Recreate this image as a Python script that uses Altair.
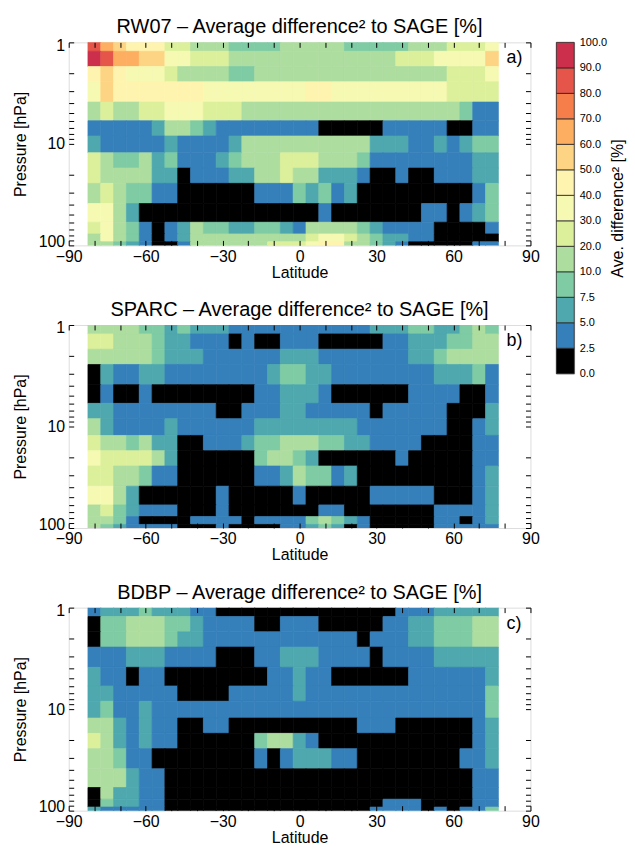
import json
import math
import altair as alt
import pandas as pd

# ---------------- data ----------------
LATITUDES = [-80, -75, -70, -65, -60, -55, -50, -45, -40, -35, -30, -25, -20, -15, -10, -5,
             0, 5, 10, 15, 20, 25, 30, 35, 40, 45, 50, 55, 60, 65, 70, 75]
PRESSURE_LEVELS = [1, 1.5, 2, 3, 5, 7, 10, 15, 20, 30, 50, 70, 85, 100]

BIN_LABELS = ["0.0", "2.5", "5.0", "7.5", "10.0", "20.0", "30.0", "40.0",
              "50.0", "60.0", "70.0", "80.0", "90.0", "100.0"]
THRESHOLDS = [2.5, 5, 7.5, 10, 20, 30, 40, 50, 60, 70, 80, 90]
BIN_COLORS = ["#000000", "#3580ba", "#4ea8ae", "#7ecba4", "#aedda0", "#dcf09c",
              "#f5f9b2", "#fff4af", "#fdd483", "#fdae61", "#f57e4a", "#e5554a", "#cb2f4c"]
# cell codes -> representative value of the colour class
CODE_VALUES = {"0": 1.2, "1": 3.8, "2": 6.2, "3": 8.8, "4": 15, "5": 25, "6": 35,
               "7": 45, "8": 55, "9": 65, "A": 75, "B": 85, "C": 95}

# rows: 1 hPa (top) ... 100 hPa (bottom); columns: -80 ... 75 deg
RW07 = [
    "B9877755444333344" "444333334445556",
    "CB998866555444444" "444444455566668",
    "78766654444334444" "444444444445556",
    "68777777766666666" "776666666665555",
    "45445566655544444" "444444444444311",
    "11111244321111111" "100000111110011",
    "21111121111244444" "444442221121233",
    "54334231112344455" "544431111111122",
    "54444220111224454" "422210010011122",
    "45433110000001113" "231200000000013",
    "66420000000000000" "010000000110123",
    "56431012433223321" "444432111100001",
    "46431012444444444" "566543221100000",
    "44321001444444555" "677443210000011",
]
SPARC = [
    "44443323222111111" "111112223322343",
    "55444322111010011" "100000112223344",
    "44444322211111122" "211111112234444",
    "02112211111111233" "221111111122231",
    "01001000000001122" "210000001111001",
    "22111111110011122" "111110111110002",
    "42111121111112222" "222211111110012",
    "54434220011123344" "433221111000011",
    "65555420000003443" "200000010000011",
    "55443110000001124" "331200000000012",
    "66420000001000001" "000001111100012",
    "45321110001000000" "011000000011112",
    "44310000111101111" "343210000011012",
    "43211110001000011" "232010000011111",
]
BDBP = [
    "12223222110000000" "000000011122222",
    "03344433211110011" "100000112233344",
    "03344432211111111" "111101112233344",
    "11122211110001122" "211110111122222",
    "21101100000000112" "110000001111112",
    "22111110000111112" "111111111111113",
    "23112111111111111" "111111111111113",
    "44212110011000000" "000011100000012",
    "54212110000003442" "100000000000012",
    "44311000000001012" "221100000000112",
    "44421100000000000" "000000000000011",
    "04221100000000000" "000000000000011",
    "03221100000000000" "000000111000011",
    "21111100000000000" "000001111010113",
]

FONT = "Liberation Sans"
PW, PH = 464, 204


def grid_frame(rows):
    L = PRESSURE_LEVELS
    mids = [math.sqrt(L[i] * L[i + 1]) for i in range(len(L) - 1)]
    recs = []
    for r, row in enumerate(rows):
        top = mids[r - 1] if r > 0 else L[0] ** 2 / mids[0]
        bot = mids[r] if r < len(L) - 1 else L[-1] ** 2 / mids[-1]
        for c, code in enumerate(row):
            lat = LATITUDES[c]
            recs.append({"lat0": lat - 2.5, "lat1": lat + 2.5, "p0": top, "p1": bot,
                         "value": CODE_VALUES[code]})
    return pd.DataFrame(recs)


def panel(rows, title, tag, xtitle_pad=0):
    df = grid_frame(rows)
    xs = alt.Scale(domain=[-90, 90], nice=False, zero=False)
    ys = alt.Scale(type="log", domain=[1, 100], reverse=True, nice=False)
    cscale = alt.Scale(type="threshold", domain=THRESHOLDS, range=BIN_COLORS)
    xvals = list(range(-90, 91, 10))
    yvals = [1, 2, 3, 4, 5, 6, 7, 8, 9, 10, 20, 30, 40, 50, 60, 70, 80, 90, 100]
    common = dict(offset=-5, tickSize=5, domain=False, grid=False, zindex=1,
                  tickColor="black", labelColor="black", titleColor="black",
                  labelFont=FONT, titleFont=FONT, labelFontSize=16, titleFontSize=16,
                  titleFontWeight="normal", labelOverlap=False, labelFlush=False)
    xaxis = alt.Axis(values=xvals, labelExpr="datum.value % 30 == 0 ? datum.label : ''",
                     title="Latitude", labelPadding=3, titlePadding=xtitle_pad, **common)
    yaxis = alt.Axis(values=yvals,
                     labelExpr="(datum.value == 1 || datum.value == 10 || datum.value == 100) ? format(datum.value, 'd') : ''",
                     labelOffset={"condition": [{"test": "datum.value == 100", "value": -4},
                                                {"test": "datum.value == 1", "value": 3}],
                                  "value": 0},
                     title="Pressure [hPa]", labelPadding=4, titlePadding=10, **common)
    heat = alt.Chart(df).mark_rect(clip=True, strokeWidth=0.7).encode(
        x=alt.X("lat0:Q", scale=xs, axis=xaxis),
        x2="lat1:Q",
        y=alt.Y("p0:Q", scale=ys, axis=yaxis),
        y2="p1:Q",
        color=alt.Color("value:Q", scale=cscale, legend=None),
        stroke=alt.Stroke("value:Q", scale=cscale, legend=None),
    )
    mirror_common = dict(offset=-5, tickSize=5, domain=False, grid=False, zindex=1,
                         labels=False, title=None, tickColor="black")
    mirror = alt.Chart(df).mark_rect(opacity=0).encode(
        x=alt.X("lat0:Q", scale=xs, axis=alt.Axis(orient="top", values=xvals, **mirror_common)),
        y=alt.Y("p0:Q", scale=ys, axis=alt.Axis(orient="right", values=yvals, **mirror_common)),
    )
    tag_chart = alt.Chart(pd.DataFrame({"t": [tag]})).mark_text(
        font=FONT, fontSize=18, align="left", baseline="middle", color="black"
    ).encode(x=alt.value(440), y=alt.value(16), text="t:N")
    return alt.layer(heat, mirror, tag_chart).resolve_scale(
        x="independent", y="independent"
    ).properties(
        width=PW, height=PH,
        title=alt.TitleParams(title, font=FONT, fontSize=20, fontWeight="normal",
                              color="black", offset=-4, anchor="middle"),
    )


pa = panel(RW07, "RW07 \u2013 Average difference\u00b2 to SAGE [%]", "a)")
pb = panel(SPARC, "SPARC \u2013 Average difference\u00b2 to SAGE [%]", "b)")
pc = panel(BDBP, "BDBP \u2013 Average difference\u00b2 to SAGE [%]", "c)")

left = alt.vconcat(alt.vconcat(pa, pb, spacing=18), pc, spacing=18)

cb_df = pd.DataFrame({"i": list(range(13)), "i1": list(range(1, 14)), "col": ["bar"] * 13})
colorbar = alt.Chart(cb_df).mark_rect(stroke="#222222", strokeWidth=0.8).encode(
    x=alt.X("col:N", axis=None, scale=alt.Scale(paddingInner=0, paddingOuter=0)),
    y=alt.Y("i:Q", scale=alt.Scale(domain=[0, 13], nice=False, zero=False),
            axis=alt.Axis(orient="right", values=list(range(14)),
                          labelExpr=json.dumps(BIN_LABELS) + "[datum.value]",
                          ticks=False, domain=False, grid=False, labelPadding=5,
                          labelFont=FONT, labelFontSize=11, labelColor="black",
                          labelOverlap=False, labelFlush=False,
                          title="Ave. difference\u00b2 [%]", titleFont=FONT, titleFontSize=16,
                          titleFontWeight="normal", titleColor="black", titleAngle=270,
                          titleBaseline="top", titlePadding=3)),
    y2="i1:Q",
    color=alt.Color("i:O", scale=alt.Scale(domain=list(range(13)), range=BIN_COLORS), legend=None),
).properties(
    width=18, height=333,
    title=alt.TitleParams(" ", font=FONT, fontSize=20, offset=-8.5),
)

chart = alt.hconcat(left, colorbar, spacing=15).properties(
    padding={"left": 3, "top": 6.5, "right": 0, "bottom": 0}
).configure_view(stroke="black", strokeWidth=1).configure(background="white")

chart.save("out.html", embed_options={"renderer": "svg", "actions": False})
